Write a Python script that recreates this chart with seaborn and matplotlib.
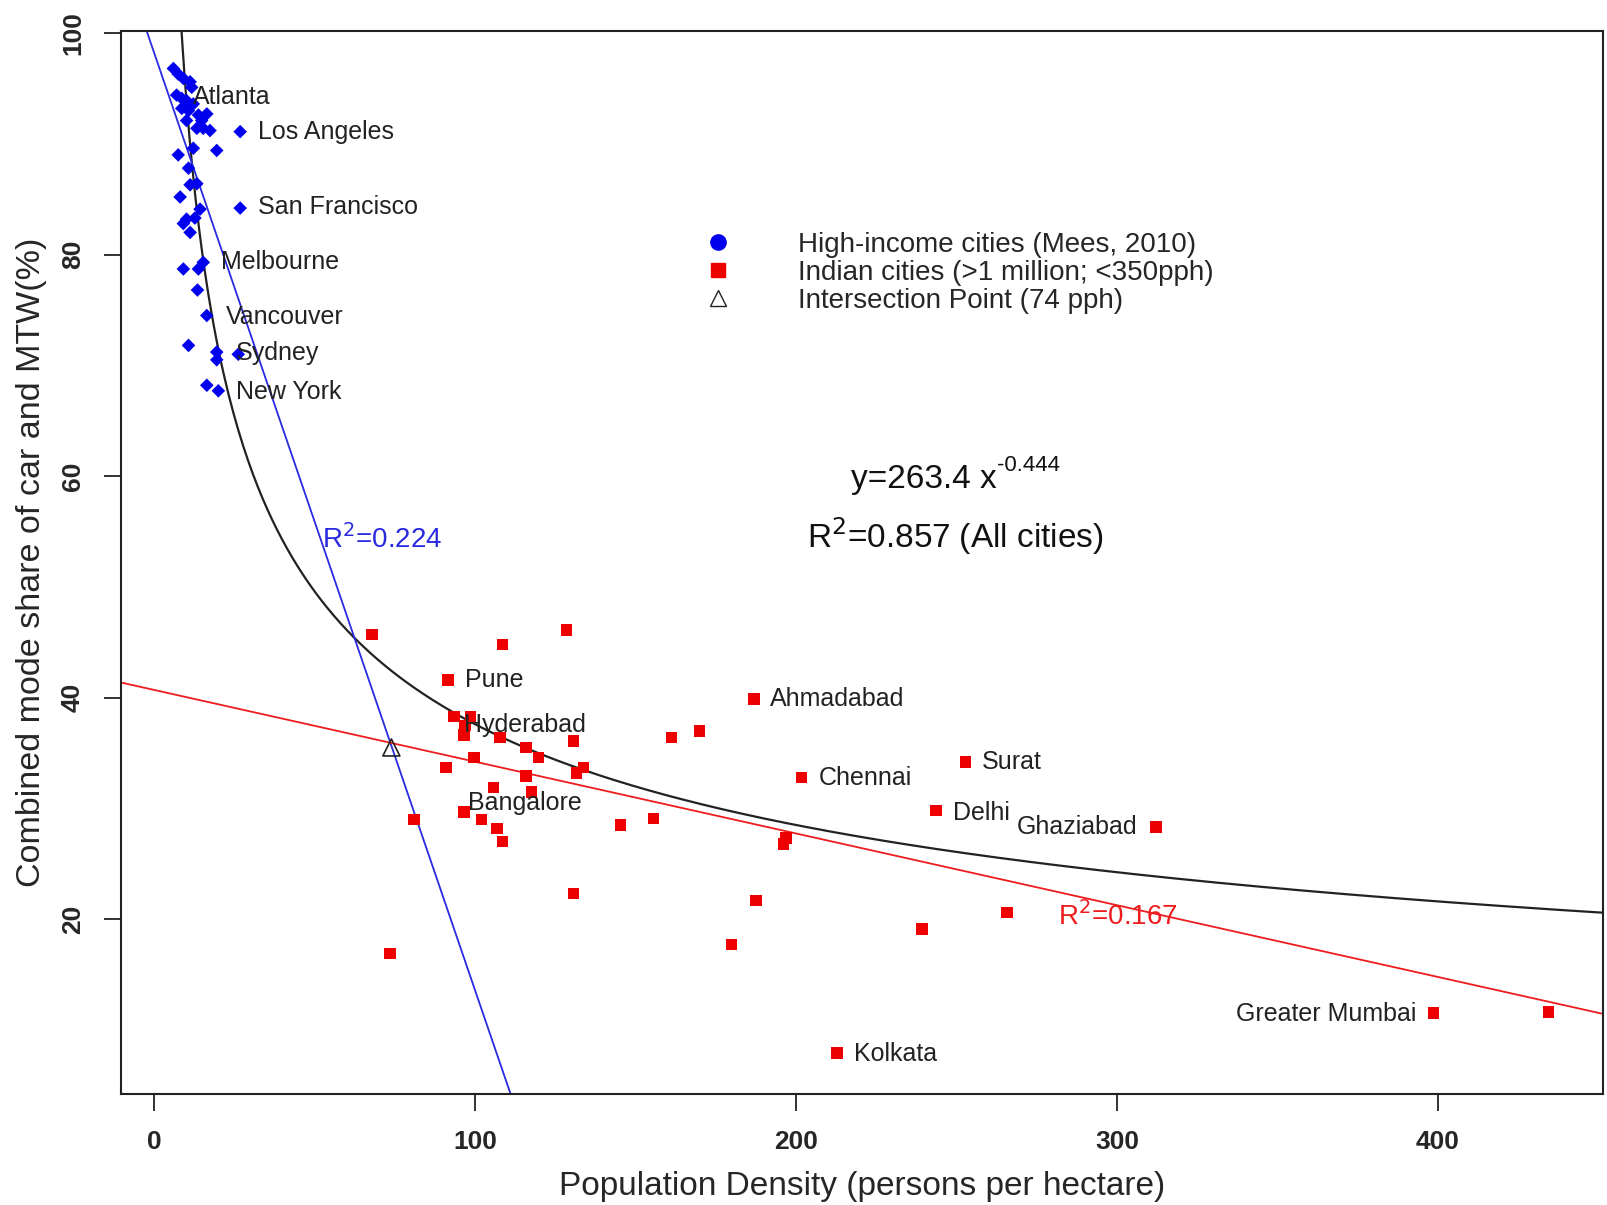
import numpy as np
import pandas as pd
import matplotlib
matplotlib.use("Agg")
import matplotlib.pyplot as plt
from matplotlib.lines import Line2D
import seaborn as sns

# high-income cities (Mees, 2010)
hi_x = [6.1, 7.6, 9.2, 11.3, 11.8, 7.1, 8.7, 10.2, 12.3, 8.7, 10.8, 13.9, 16.5, 14.9,
        10.2, 13.4, 15.4, 17.5, 26.9, 7.6, 12.3, 19.6, 10.8, 11.3, 13.4, 8.2, 26.9,
        14.4, 12.8, 10.2, 9.2, 11.3, 15.4, 13.9, 9.2, 13.6, 16.5, 10.8, 19.6, 19.6,
        26.3, 16.5, 20.1]
hi_y = [96.8, 96.3, 95.9, 95.6, 95.1, 94.4, 94.1, 93.9, 93.6, 93.2, 93.0, 92.6, 92.7, 92.1,
        92.1, 91.4, 91.4, 91.2, 91.1, 89.0, 89.6, 89.4, 87.8, 86.3, 86.4, 85.2, 84.2,
        84.1, 83.3, 83.2, 82.8, 82.0, 79.3, 78.7, 78.7, 76.8, 74.5, 71.8, 71.2, 70.5,
        71.0, 68.2, 67.7]

# Indian cities (>1 million; <350pph)
in_x = [67.9, 128.6, 108.6, 91.7, 93.5, 98.7, 96.9, 96.6, 107.9, 115.9, 130.7, 119.8,
        99.8, 91.0, 133.8, 131.7, 115.9, 105.8, 117.7, 96.6, 81.1, 102.1, 107.0, 108.6,
        145.4, 186.9, 161.3, 170.0, 201.8, 252.9, 243.7, 312.2, 155.6, 196.1, 196.9,
        130.7, 187.5, 179.9, 239.3, 265.8, 73.5, 398.7, 434.5, 212.8]
in_y = [45.7, 46.1, 44.8, 41.6, 38.3, 38.3, 37.5, 36.6, 36.4, 35.5, 36.1, 34.6,
        34.6, 33.7, 33.7, 33.2, 32.9, 31.9, 31.5, 29.7, 29.0, 29.0, 28.2, 27.0,
        28.5, 39.9, 36.4, 37.0, 32.8, 34.2, 29.8, 28.3, 29.1, 26.8, 27.3,
        22.3, 21.7, 17.7, 19.1, 20.6, 16.9, 11.5, 11.6, 7.9]

# intersection of the two linear fits
inter_x = [74.0]
inter_y = [35.5]

# fitted lines / curve (as drawn)
blue_int, blue_slope = 98.3, -0.8466
red_int, red_slope = 40.7, -0.0648
curve_a, curve_b = 237.3, -0.40

# city labels: (name, x, y, ha)
labels = [
    ("Atlanta", 12.1, 94.2, "left"), ("Los Angeles", 32.3, 91.1, "left"),
    ("San Francisco", 32.3, 84.3, "left"), ("Melbourne", 20.8, 79.3, "left"),
    ("Vancouver", 22.4, 74.4, "left"), ("Sydney", 25.6, 71.1, "left"),
    ("New York", 25.6, 67.6, "left"), ("Pune", 96.8, 41.6, "left"),
    ("Hyderabad", 96.5, 37.5, "left"), ("Bangalore", 97.8, 30.5, "left"),
    ("Ahmadabad", 192.0, 39.9, "left"), ("Chennai", 207.0, 32.7, "left"),
    ("Surat", 257.8, 34.2, "left"), ("Delhi", 248.9, 29.6, "left"),
    ("Ghaziabad", 306.4, 28.3, "right"), ("Greater Mumbai", 393.3, 11.4, "right"),
    ("Kolkata", 218.2, 7.8, "left"),
]

sns.set_theme(style="white")
plt.rcParams['font.family'] = ['Liberation Sans', 'DejaVu Sans']

df_hi = pd.DataFrame({'density': hi_x, 'share': hi_y})
df_in = pd.DataFrame({'density': in_x, 'share': in_y})

fig = plt.figure(figsize=(16.08, 12.05), dpi=100)
ax = fig.add_axes([0.0753, 0.092, 0.9215, 0.8824])

# fits
xc = np.linspace(0.5, 455, 600)
ax.plot(xc, curve_a * xc ** curve_b, color='#222222', lw=1.6, zorder=2)
ax.axline((0, blue_int), slope=blue_slope, color='#2a2ae0', lw=1.3, zorder=2)
ax.axline((0, red_int), slope=red_slope, color='#ee1c1c', lw=1.3, zorder=2)

sns.scatterplot(data=df_hi, x='density', y='share', marker='D', color='#0000ee',
                s=48, edgecolor='none', ax=ax, zorder=3)
sns.scatterplot(data=df_in, x='density', y='share', marker='s', color='#ee0000',
                s=70, edgecolor='none', ax=ax, zorder=3)
ax.scatter(inter_x, inter_y, marker='^', s=150, facecolor='none', edgecolor='#222222',
           linewidth=1.2, zorder=4)

for name, x, y, ha in labels:
    ax.text(x, y, name, ha=ha, va='center', fontsize=18, color='#222222', zorder=5)

eq = ax.text(217.3, 59.7, "y=263.4 x", fontsize=24, va='center', color='#111111')
ax.annotate("-0.444", xy=(1.0, 0.62), xycoords=eq, va='bottom', ha='left',
            fontsize=16, color='#111111')
ax.text(203.5, 54.6, r"R$^2$=0.857 (All cities)", fontsize=24, va='center', color='#111111')
ax.text(52.3, 54.3, r"R$^2$=0.224", fontsize=20, va='center', color='#2a2ae0')
ax.text(281.8, 20.3, r"R$^2$=0.167", fontsize=20, va='center', color='#ee1c1c')

handles = [
    Line2D([], [], ls='none', marker='o', color='#0000ee', markersize=11),
    Line2D([], [], ls='none', marker='s', color='#ee0000', markersize=10),
    Line2D([], [], ls='none', marker='^', markerfacecolor='none',
           markeredgecolor='#222222', markersize=12),
]
ax.legend(handles, ["High-income cities (Mees, 2010)",
                    "Indian cities (>1 million; <350pph)",
                    "Intersection Point (74 pph)"],
          loc='upper left', bbox_to_anchor=(0.3934, 0.811), frameon=False,
          fontsize=20, borderpad=0, handlelength=1.0, handletextpad=2.37,
          labelspacing=0.07, borderaxespad=0)

ax.set_xlim(-10.2, 451.4)
ax.set_ylim(4.2, 100.2)
ax.set_xticks([0, 100, 200, 300, 400])
ax.set_yticks([20, 40, 60, 80, 100])
ax.tick_params(axis='both', direction='out', length=12, width=1.3, color='#222222',
               labelsize=19, pad=14, bottom=True, left=True)
for t in ax.get_xticklabels() + ax.get_yticklabels():
    t.set_fontweight('bold')
plt.setp(ax.get_yticklabels(), rotation=90, va='center')

ax.set_xlabel("Population Density (persons per hectare)", fontsize=24, labelpad=12)
ax.set_ylabel("Combined mode share of car and MTW(%)", fontsize=24.5, labelpad=10)
for sp in ax.spines.values():
    sp.set_color('#222222')
    sp.set_linewidth(1.5)

fig.savefig("out.png", dpi=100)
